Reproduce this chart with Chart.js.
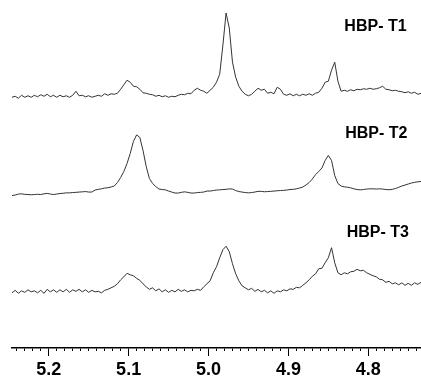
<!DOCTYPE html>
<html>
<head>
<meta charset="utf-8">
<script src="https://cdn.jsdelivr.net/npm/chart.js@4/dist/chart.umd.min.js"></script>
<style>
html,body{margin:0;padding:0;background:#fff;}
canvas{display:block;}
</style>
</head>
<body>
<canvas id="c" width="421" height="379"></canvas>
<script>
// chemical shift (ppm)
const shifts = [5.246,5.242,5.238,5.234,5.230,5.226,5.222,5.218,5.214,5.210,
5.206,5.202,5.198,5.194,5.190,5.186,5.182,5.178,5.174,5.170,
5.166,5.162,5.158,5.154,5.150,5.146,5.142,5.138,5.134,5.130,
5.126,5.122,5.118,5.114,5.110,5.106,5.102,5.098,5.094,5.090,
5.086,5.082,5.078,5.074,5.070,5.066,5.062,5.058,5.054,5.050,
5.046,5.042,5.038,5.034,5.030,5.026,5.022,5.018,5.014,5.010,
5.006,5.002,4.998,4.994,4.990,4.986,4.982,4.978,4.974,4.970,
4.966,4.962,4.958,4.954,4.950,4.946,4.942,4.938,4.934,4.930,
4.926,4.922,4.918,4.914,4.910,4.906,4.902,4.898,4.894,4.890,
4.886,4.882,4.878,4.874,4.870,4.866,4.862,4.858,4.854,4.850,
4.846,4.842,4.838,4.834,4.830,4.826,4.822,4.818,4.814,4.810,
4.806,4.802,4.798,4.794,4.790,4.786,4.782,4.778,4.774,4.770,
4.766,4.762,4.758,4.754,4.750,4.746,4.742,4.738,4.734];

// intensities (relative to each trace's baseline)
const hbpT1 = [0,1,-1,2,0,1.5,0,2,0.5,2.5,
1,3,0.5,2,0,2,0.5,1.5,0,2,
6,1.5,2,0.5,1.5,0,1,2,1,3.5,
2,3.5,3,4,8,12.5,17,15,11,10.5,
8,4.5,4,3,2.5,1,2,0.5,1.5,0,
1,0.5,2,3,2.5,4,3.5,7,9,7,
6,4,7,10,15,23,52,84,69,35,
20,11,6,3,1.5,3,6,9,7,8,
4,5,3.5,10,8,3,2,3.5,1.5,3,
1.5,3,2,3.5,2,4,5,9,15,16,
27,35,16,6,7,6,7.5,6.5,8,7.5,
8.5,8,9,8,8.5,9.5,11,8,7.5,6.5,
7,6,5.5,4.5,5.5,4,5,3,4];

const hbpT2 = [0,0.5,1.5,1.7,1.2,1,0.8,1,1.3,1,
1.7,2.2,1.5,1,1.5,2,2.3,2.7,2.7,3,
3.2,3.5,3.7,4,3.5,3.5,5.5,6.2,6.7,7.5,
7.8,8.5,9.5,13,18,24,32,42,54,60.5,
58,45,29,17,12,9,6.5,6,5.7,4.5,
3.5,2.5,2.5,3.2,3.7,3.2,2.5,2.5,3,3.2,
3.5,4.5,4.5,5,5.5,5.7,6,6.2,6.7,6.5,
5,4,3.5,3,2.7,3,3.5,4.2,4.2,3.8,
4,4.2,4.5,4.8,5,5.2,5.5,6,6.2,6.7,
7.5,8.5,10.5,13,16.5,21,24,27.5,35,40,
35,20,12,9.5,8.7,8.3,7.7,6.7,6,5.7,
6,6.5,6.7,6.7,6.5,6.7,6.5,6,5.8,6.2,
7,8.2,9.5,10.5,11.5,12.5,13.2,13.7,14];

const hbpT3 = [0,2.5,-0.5,2,0.5,3,1,2,0,2.5,
-0.5,3.5,1,3,0.5,3,1,3.5,0.5,3,
1.5,3.5,1,3,0.5,2.5,1,1.5,0,2.5,
3.5,5,6.5,9,13,16,19.5,18,17,14.5,
12.5,9,6,3.5,5,2,4,1,3,0.5,
2.5,1,3.5,1.5,3,1,2.5,2,3.5,2.5,
6,9,12,20,26,35,43,46.5,41,29,
19,12,7,5,3,4.5,1.5,3.5,1,2.5,
0,2,-0.5,2,1,3,2,4,3.5,5.5,
5,7.5,10,13,16.5,19,24,24.5,30,35,
45,30,20,18,20,19,21,21.5,23.5,22,
22.5,20,18.5,17,16,13.5,13,10.5,11.5,9,
10,8,10,7.5,9.5,7.5,10,8.5,10.5];

const seriesNames = ['HBP- T1','HBP- T2','HBP- T3'];
const majorTickLabels = ['5.2','5.1','5.0','4.9','4.8'];

const seriesData = [hbpT1, hbpT2, hbpT3];
const offsets = [250, 152, 55];           // vertical stacking of traces
const labelPos = [[4.791, 320], [4.790, 214], [4.788, 115]];

const datasets = seriesData.map((arr, k) => ({
  label: seriesNames[k],
  data: arr.map((v, i) => ({x: shifts[i], y: v + offsets[k]})),
  borderColor: '#333',
  borderWidth: 1,
  pointRadius: 0,
  tension: 0,
  fill: false,
  xAxisID: 'x',
  yAxisID: 'y'
}));

const labelPlugin = {
  id: 'traceLabels',
  afterDatasetsDraw(chart) {
    const ctx = chart.ctx, xs = chart.scales.x, ys = chart.scales.y;
    ctx.save();
    ctx.font = 'bold 16px "Liberation Sans", Arial, sans-serif';
    ctx.fillStyle = '#000';
    ctx.textAlign = 'center';
    ctx.textBaseline = 'middle';
    seriesNames.forEach((n, k) => {
      ctx.fillText(n, xs.getPixelForValue(labelPos[k][0]), ys.getPixelForValue(labelPos[k][1]));
    });
    ctx.restore();
  }
};

const XMIN = 4.734, XMAX = 5.246;
new Chart(document.getElementById('c'), {
  type: 'line',
  data: {datasets},
  plugins: [labelPlugin],
  options: {
    responsive: false,
    animation: false,
    devicePixelRatio: 1,
    layout: {padding: {left: 12, right: 0, top: 0, bottom: -5}},
    plugins: {legend: {display: false}, tooltip: {enabled: false}},
    scales: {
      x: {
        type: 'linear', position: 'bottom', reverse: true, min: XMIN, max: XMAX,
        weight: 0,
        ticks: {display: false, stepSize: 0.01, includeBounds: false},
        afterBuildTicks: (s) => { s.ticks = s.ticks.filter(t => Math.abs(t.value*100 - Math.round(t.value*100)) < 1e-6); },
        grid: {drawOnChartArea: false, drawTicks: true, tickLength: 3, color: '#000', lineWidth: 1},
        border: {display: true, color: '#000', width: 1.5}
      },
      x2: {
        type: 'linear', position: 'bottom', reverse: true, min: XMIN, max: XMAX,
        weight: 1,
        ticks: {
          stepSize: 0.1, autoSkip: false, maxRotation: 0, padding: 5, includeBounds: false,
          color: '#000',
          font: {family: '"Liberation Sans", Arial, sans-serif', size: 18, weight: 'bold', lineHeight: 1},
          callback: (v) => { const s = v.toFixed(1); return majorTickLabels.includes(s) ? s : ''; }
        },
        afterBuildTicks: (s) => { s.ticks = s.ticks.filter(t => Math.abs(t.value*10 - Math.round(t.value*10)) < 1e-6); },
        grid: {drawOnChartArea: false, drawTicks: true, tickLength: 5, color: '#000', lineWidth: 1},
        border: {display: false}
      },
      y: {
        type: 'linear', display: false, min: 0, max: 347
      }
    }
  }
});
</script>
</body>
</html>
